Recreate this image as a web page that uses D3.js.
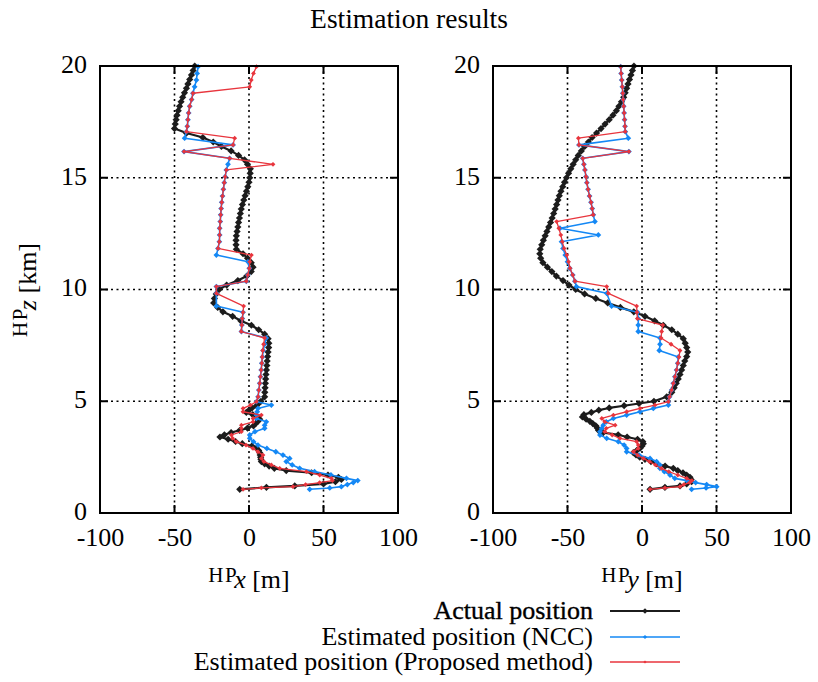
<!DOCTYPE html>
<html>
<head>
<meta charset="utf-8">
<script src="https://cdn.jsdelivr.net/npm/d3@7"></script>
<style>
  body { margin: 0; background: #fff; }
  svg { display: block; }
  text { font-family: "Liberation Serif", "Times New Roman", Times, serif; fill: #000; }
</style>
</head>
<body>
<svg id="chart" width="818" height="682"></svg>
<script>
// ---------------- DATA ----------------
const chartTitle = "Estimation results";
const seriesNames = ["Actual position", "Estimated position (NCC)", "Estimated position (Proposed method)"];
const xTickValues = [-100, -50, 0, 50, 100];
const zTickValues = [0, 5, 10, 15, 20];

// Actual position: altitude [km], HP x [m], HP y [m]
const altActual = [
  20.0, 19.8, 19.6, 19.4, 19.2, 19.0, 18.8, 18.6, 18.4, 18.2, 18.0, 17.8, 17.6, 17.4, 17.2,
  17.0, 16.8, 16.6, 16.4, 16.2, 16.0, 15.8, 15.6, 15.4,
  15.2, 15.0, 14.8, 14.6, 14.4, 14.2, 14.0, 13.8, 13.6, 13.4, 13.2, 13.0, 12.8, 12.6, 12.4, 12.2, 12.0,
  11.8, 11.6, 11.4, 11.2, 11.0, 10.8, 10.6, 10.4, 10.2, 10.0,
  9.8, 9.6, 9.4, 9.2, 9.0, 8.8, 8.6, 8.4, 8.2, 8.0, 7.8, 7.6, 7.4, 7.2, 7.0,
  6.8, 6.6, 6.4, 6.2, 6.0, 5.8, 5.6, 5.4, 5.2, 5.0,
  4.9, 4.8, 4.7, 4.6, 4.5, 4.4, 4.3, 4.2, 4.1, 4.0, 3.9, 3.8, 3.7, 3.6, 3.5, 3.4, 3.3, 3.2, 3.1, 3.0,
  2.9, 2.8, 2.7, 2.6, 2.5, 2.4, 2.3, 2.2, 2.1, 2.0, 1.9, 1.8, 1.7, 1.6, 1.5, 1.4, 1.3, 1.21, 1.15, 1.06
];
const actualX = [
  -36.4, -37.5, -38.6, -39.8, -41.0, -42.0, -43.3, -44.5, -45.6, -46.6, -47.5, -48.3, -48.9, -49.5, -50.0,
  -42.0, -31.0, -24.0, -18.5, -12.0, -7.0, -3.0, -1.0, 0.9,
  0.8, 0.5, 0.0, -0.8, -1.7, -2.6, -3.5, -4.4, -5.2, -5.8, -6.4, -7.0, -7.5, -8.0, -8.5, -8.7, -8.7,
  -8.5, -4.0, -1.0, 1.5, 2.7, 1.5, -1.5, -7.5, -15.0, -20.0,
  -22.0, -23.2, -23.7, -21.0, -17.5, -11.0, -5.5, 1.6, 6.5, 10.5, 12.8, 13.3, 13.2, 12.8, 12.5,
  12.2, 12.0, 11.7, 11.4, 11.2, 11.0, 10.8, 10.6, 10.5, 8.0,
  6.5, 5.0, 2.0, 0.0, -1.8, 2.5, 5.5, 7.2, 6.0, 4.5, 3.0, -1.0, -6.2, -12.0, -16.5, -19.5, -14.0, -9.0, -4.5, 2.0,
  5.0, 6.5, 7.2, 7.5, 7.8, 8.0, 8.3, 10.5, 13.5, 17.0, 25.0, 42.0, 53.0, 60.0, 62.0, 58.0, 50.0, 30.7, 11.7, -6.2
];
const actualY = [
  -5.4, -6.4, -7.4, -8.4, -9.4, -10.3, -11.3, -12.3, -13.8, -15.5, -17.2, -19.5, -22.0, -24.8, -27.5,
  -30.5, -33.5, -36.0, -38.5, -40.7, -42.8, -44.5, -46.2, -47.8,
  -49.3, -50.7, -52.0, -53.2, -54.4, -55.5, -56.4, -57.3, -58.3, -59.3, -60.3, -61.4, -62.6, -63.8, -65.0, -66.2, -67.3,
  -68.3, -68.6, -68.0, -66.5, -63.5, -60.5, -57.5, -53.0, -49.0, -44.5,
  -38.5, -31.0, -23.0, -14.5, -5.5, 2.0, 8.5, 14.3, 20.0, 24.0, 27.7, 29.0, 30.0, 30.7, 30.0,
  28.7, 27.7, 26.6, 25.5, 24.3, 23.0, 21.6, 20.0, 16.6, 8.0,
  -2.0, -12.0, -22.0, -29.0, -34.0, -39.0, -40.0, -37.5, -35.0, -33.0, -31.0, -30.0, -29.2, -26.0, -16.0, -10.0, -3.0, 0.5, 0.9, 0.0,
  -1.3, -3.5, -5.8, -4.0, -1.5, 2.0, 6.0, 10.0, 15.5, 21.0, 24.0, 27.5, 30.0, 32.2, 33.0, 33.3, 30.0, 25.5, 15.4, 5.4
];

// Estimated positions: altitude [km] shared by both estimators
const altEstimated = [
  19.97, 19.67, 19.37, 19.07, 18.78, 18.50, 18.20, 17.90, 17.60, 17.30, 17.06, 16.77, 16.47, 16.17, 15.87, 15.60, 15.35,
  15.05, 14.78, 14.48, 14.18, 13.90, 13.62, 13.34, 13.04, 12.74, 12.44, 12.14, 11.84, 11.54, 11.24, 10.95, 10.65, 10.37,
  10.13, 9.83, 9.26, 8.98, 8.70, 8.41, 8.12, 7.83, 7.55, 7.27, 6.98, 6.70, 6.40, 6.10, 5.80, 5.50, 5.20,
  4.98, 4.83, 4.68, 4.53, 4.38, 4.23, 4.08, 3.93, 3.79, 3.64, 3.49, 3.34, 3.19, 3.04, 2.89, 2.74, 2.59, 2.44, 2.30, 2.15,
  2.00, 1.85, 1.70, 1.55, 1.45, 1.36, 1.27, 1.18, 1.12, 1.06
];
const nccX = [
  -34.2, -34.8, -35.3, -36.5, -37.6, -38.5, -39.8, -40.5, -41.0, -41.4, -42.0, -43.2, -10.7, -43.6, -13.0, -14.1, -15.2,
  -16.0, -16.6, -17.2, -17.8, -18.3, -18.7, -19.0, -19.3, -19.7, -19.7, -19.9, -20.8, -21.9, -0.7, 0.2, -0.8, -1.8,
  -21.9, -21.9, -21.9, -4.0, -4.5, -4.8, -5.1, 11.6, 10.5, 9.5, 9.0, 8.6, 8.2, 7.7, 7.2, 6.6, 6.1,
  5.0, 15.0, 6.0, 5.5, 5.0, 5.0, 11.6, 10.5, 10.5, 4.0, 0.5, 0.5, 3.0, 6.0, 12.0, 18.0, 22.8, 27.3, 25.0, 29.0,
  34.0, 44.0, 55.0, 65.4, 73.0, 70.0, 66.0, 62.0, 54.2, 40.7
];
const nccY = [
  -14.3, -14.0, -13.6, -13.2, -12.9, -12.6, -12.3, -12.0, -11.7, -11.4, -11.2, -9.2, -42.3, -8.8, -39.8, -39.0, -38.3,
  -37.6, -37.0, -36.2, -35.2, -34.2, -33.4, -32.7, -31.6, -55.1, -29.3, -54.0, -53.0, -51.5, -50.0, -48.5, -46.5, -45.0,
  -44.0, -23.7, -20.4, -3.0, -2.5, -2.5, -2.5, 12.1, 12.1, 11.6, 24.4, 24.0, 23.2, 22.1, 21.0, 19.9, 18.5,
  17.7, 17.7, 7.6, -1.3, -10.3, -19.2, -24.0, -26.0, -27.0, -28.2, -28.2, -23.7, -15.9, -12.0, -10.3, -10.3, -2.0, 5.4, 9.8, 12.0,
  12.0, 15.0, 18.8, 22.0, 30.0, 36.0, 43.4, 50.1, 43.0, 33.3
];
const proposedX = [
  5.0, 3.0, 1.5, 0.5, -37.6, -38.5, -39.8, -40.5, -41.0, -41.4, -42.0, -9.6, -10.7, -43.6, -13.0, 16.1, -15.2,
  -16.0, -16.6, -17.2, -17.8, -18.3, -18.7, -19.0, -19.3, -19.7, -19.7, -19.9, -20.8, 1.6, 0.5, 0.2, -0.8, -1.8,
  -21.9, -21.9, -3.6, -4.0, -4.5, -4.8, -5.2, 10.5, 9.8, 9.2, 8.9, 8.6, 8.2, 7.7, 7.2, 6.6, 6.1,
  5.0, 1.0, -4.0, -4.0, 8.3, 2.7, 2.7, -5.1, -5.1, -5.1, -11.8, -11.0, -8.5, -2.0, 2.7, 6.0, 9.4, 8.3, 10.0, 15.0,
  20.6, 38.5, 47.5, 55.3, 56.0, 47.4, 38.0, 29.5, 8.3, -4.0
];
const proposedY = [
  -14.3, -14.0, -13.6, -13.2, -12.9, -12.6, -12.3, -12.0, -11.7, -11.4, -11.2, -42.7, -42.3, -8.8, -39.8, -39.0, -38.3,
  -37.6, -37.0, -36.2, -35.2, -34.2, -33.4, -32.7, -57.3, -55.8, -54.5, -53.5, -52.3, -50.5, -49.3, -48.3, -46.5, -45.0,
  -23.7, -22.6, -3.6, -3.4, -3.1, 13.9, 13.2, 12.8, 19.5, 25.5, 24.8, 24.0, 23.2, 22.1, 21.0, 19.9, 18.5,
  17.7, 8.7, -1.3, -10.3, -19.2, -27.0, -25.0, -18.0, -24.0, -25.0, -20.0, -14.8, -3.6, -2.5, -2.5, -5.8, -3.0, 1.0, 5.0, 9.0,
  13.0, 18.0, 24.0, 30.0, 33.5, 32.0, 28.0, 25.5, 15.4, 5.4
];

// ---------------- DRAWING ----------------
const FONT = '"Liberation Serif", "Times New Roman", Times, serif';
const svg = d3.select("#chart").style("font-family", FONT);
const plotTop = 66, plotBottom = 513;
const panelDefs = [
  { left: 100, right: 398, comp: "x", actual: actualX, ncc: nccX, prop: proposedX },
  { left: 493, right: 791, comp: "y", actual: actualY, ncc: nccY, prop: proposedY }
];
const colors = { actual: "#1c1c1c", ncc: "#1488f5", prop: "#e8353d" };
const styles = [
  { key: "actual", color: colors.actual, width: 2.2, r: 3.6 },
  { key: "ncc", color: colors.ncc, width: 1.6, r: 2.9 },
  { key: "prop", color: colors.prop, width: 1.3, r: 2.4 }
];
const diamond = r => `M0,${-r}L${r},0L0,${r}L${-r},0Z`;
const zScale = d3.scaleLinear().domain([0, 20]).range([plotBottom, plotTop]);
const plainFmt = d => String(d); // keep ASCII hyphen-minus like the reference

// title
svg.append("text").attr("x", 409).attr("y", 28).attr("text-anchor", "middle")
  .style("font-size", "27.5px").text(chartTitle);

panelDefs.forEach(p => {
  const xScale = d3.scaleLinear().domain([-100, 100]).range([p.left, p.right]);
  const g = svg.append("g");

  // dotted grid
  const gridX = xTickValues.filter(v => v > -100 && v < 100);
  const gridZ = zTickValues.filter(v => v > 0 && v < 20);
  g.selectAll(".gx").data(gridX).enter().append("line")
    .attr("x1", d => xScale(d)).attr("x2", d => xScale(d))
    .attr("y1", plotTop).attr("y2", plotBottom)
    .attr("stroke", "#000").attr("stroke-width", 1.6).attr("stroke-dasharray", "2,3.5");
  g.selectAll(".gz").data(gridZ).enter().append("line")
    .attr("y1", d => zScale(d)).attr("y2", d => zScale(d))
    .attr("x1", p.left).attr("x2", p.right)
    .attr("stroke", "#000").attr("stroke-width", 1.6).attr("stroke-dasharray", "2,3.5");

  // inward ticks (mirrored)
  const tk = 8;
  gridX.forEach(v => {
    g.append("line").attr("x1", xScale(v)).attr("x2", xScale(v)).attr("y1", plotBottom).attr("y2", plotBottom - tk)
      .attr("stroke", "#000").attr("stroke-width", 2);
    g.append("line").attr("x1", xScale(v)).attr("x2", xScale(v)).attr("y1", plotTop).attr("y2", plotTop + tk)
      .attr("stroke", "#000").attr("stroke-width", 2);
  });
  gridZ.forEach(v => {
    g.append("line").attr("x1", p.left).attr("x2", p.left + tk).attr("y1", zScale(v)).attr("y2", zScale(v))
      .attr("stroke", "#000").attr("stroke-width", 2);
    g.append("line").attr("x1", p.right).attr("x2", p.right - tk).attr("y1", zScale(v)).attr("y2", zScale(v))
      .attr("stroke", "#000").attr("stroke-width", 2);
  });

  // axes labels via d3 axes
  const xAxis = d3.axisBottom(xScale).tickValues(xTickValues).tickSize(0).tickPadding(15).tickFormat(plainFmt);
  const gx = g.append("g").attr("transform", `translate(0,${plotBottom})`).call(xAxis);
  gx.select(".domain").remove();
  gx.selectAll("text").style("font-size", "26px").attr("fill", "#000").style("font-family", FONT);

  const zAxis = d3.axisLeft(zScale).tickValues(zTickValues).tickSize(0).tickPadding(13).tickFormat(plainFmt);
  const gz = g.append("g").attr("transform", `translate(${p.left},0)`).call(zAxis);
  gz.select(".domain").remove();
  gz.selectAll("text").style("font-size", "26px").attr("fill", "#000").attr("dy", "0.24em")
    .style("font-family", FONT);

  // series
  const alts = { actual: altActual, ncc: altEstimated, prop: altEstimated };
  styles.forEach(s => {
    const vals = p[s.key];
    const pts = vals.map((v, i) => [xScale(v), zScale(alts[s.key][i])]);
    g.append("path").attr("d", d3.line()(pts)).attr("fill", "none")
      .attr("stroke", s.color).attr("stroke-width", s.width).attr("stroke-linejoin", "round");
    g.selectAll(null).data(pts).enter().append("path")
      .attr("d", diamond(s.r)).attr("transform", d => `translate(${d[0]},${d[1]})`)
      .attr("fill", s.color);
  });

  // frame
  g.append("rect").attr("x", p.left).attr("y", plotTop)
    .attr("width", p.right - p.left).attr("height", plotBottom - plotTop)
    .attr("fill", "none").attr("stroke", "#000").attr("stroke-width", 2);

  // x axis title
  const cx = (p.left + p.right) / 2;
  const t = svg.append("text").attr("x", cx).attr("y", 588).attr("text-anchor", "middle")
    .style("font-size", "26px");
  t.append("tspan").style("font-size", "21px").style("letter-spacing", "1.5px").attr("dy", -6).text("HP");
  t.append("tspan").style("font-style", "italic").attr("dx", -4).attr("dy", 6).text(p.comp);
  t.append("tspan").text(" [m]");
});

// y axis title (rotated)
const yt = svg.append("text").attr("transform", "translate(36,290) rotate(-90)")
  .attr("text-anchor", "middle").style("font-size", "26px");
yt.append("tspan").style("font-size", "21px").style("letter-spacing", "1.5px").attr("dy", -9).text("HP");
yt.append("tspan").style("font-style", "italic").attr("dx", -3).attr("dy", 9).text("z");
yt.append("tspan").text(" [km]");

// legend
const legendRows = [611, 637, 662];
styles.forEach((s, i) => {
  const y = legendRows[i];
  const txt = svg.append("text").attr("x", 593).attr("y", y + 8).attr("text-anchor", "end")
    .style("font-size", "26px").text(seriesNames[i]);
  if (i === 0) txt.attr("stroke", "#000").attr("stroke-width", 0.35);
  svg.append("line").attr("x1", 610).attr("x2", 680).attr("y1", y).attr("y2", y)
    .attr("stroke", s.color).attr("stroke-width", s.width);
  svg.append("path").attr("d", diamond(s.r - 0.8)).attr("transform", `translate(645,${y})`)
    .attr("fill", s.color);
});
</script>
</body>
</html>
